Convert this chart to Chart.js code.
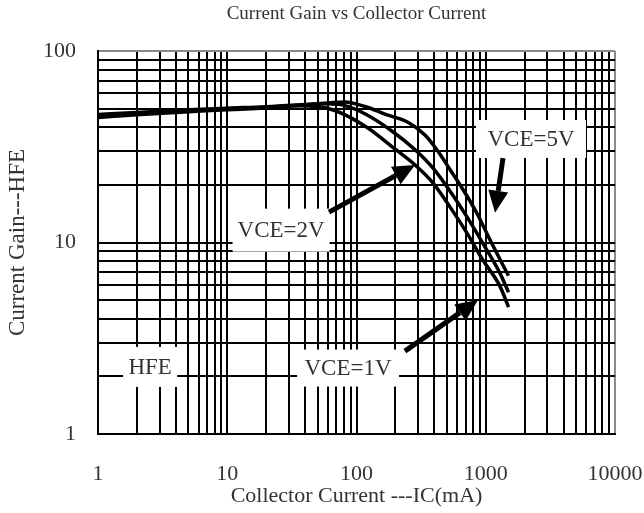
<!DOCTYPE html>
<html>
<head>
<meta charset="utf-8">
<script src="https://cdn.jsdelivr.net/npm/chart.js@4"></script>
<style>
  html, body { margin: 0; padding: 0; background: #fff; }
  #wrap { width: 644px; height: 513px; }
</style>
</head>
<body>
<div id="wrap"><canvas id="chart" width="644" height="513"></canvas></div>
<script>
// grid lines (log decades) and labels
const xGrid = [1, 2, 3, 4, 5, 6, 7, 8, 9, 10, 20, 30, 40, 50, 60, 70, 80, 90,
  100, 200, 300, 400, 500, 600, 700, 800, 900, 1000, 2000, 3000, 4000, 5000,
  6000, 7000, 8000, 9000, 10000];
const yGrid = [1, 2, 3, 4, 5, 6, 7, 8, 9, 10, 20, 30, 40, 50, 60, 70, 80, 90, 100];
const xTickLabels = [1, 10, 100, 1000, 10000];
const yTickLabels = [1, 10, 100];

// HFE curves
const ic5V = [1, 2, 5, 10, 20, 40, 60, 80, 120, 170, 250, 340, 420, 530, 670, 850, 1080, 1500];
const hfe5V = [46.6, 47.8, 49.3, 50.3, 51.2, 52.6, 53.5, 54.2, 51, 46.5, 42.5, 36.3, 30.4, 24, 18.8, 14.3, 10.3, 6.7];

const ic2V = [1, 2, 5, 10, 20, 40, 60, 80, 120, 190, 284, 390, 530, 716, 950, 1290, 1500];
const hfe2V = [45.8, 47.2, 48.8, 49.8, 50.8, 52.3, 53, 52, 46.5, 38, 30.5, 24.5, 18.5, 13.6, 9.9, 6.9, 5.5];

const ic1V = [1, 2, 5, 10, 20, 36, 66, 120, 190, 284, 390, 530, 716, 950, 1290, 1500];
const hfe1V = [45, 46.5, 48.2, 49.3, 50.4, 51.7, 49.2, 40, 31.5, 25.4, 20.5, 15.3, 11.2, 8.1, 5.9, 4.6];

// text boxes and arrows, in data units
const boxes = [
  { text: 'VCE=2V', x: 26.1, y: 11.6, w: 97, h: 43 },
  { text: 'VCE=5V', x: 2239, y: 34.7, w: 110, h: 38 },
  { text: 'HFE', x: 2.53, y: 2.24, w: 54, h: 40 },
  { text: 'VCE=1V', x: 86, y: 2.21, w: 102, h: 37 }
];
const arrows = [
  { x0: 61.3, y0: 14.4, x1: 284, y1: 25.4 },
  { x0: 1360, y0: 27.6, x1: 1180, y1: 14.3 },
  { x0: 237, y0: 2.71, x1: 871, y1: 5.01 }
];

const FONT = "'Liberation Serif', 'DejaVu Serif', serif";
const toPts = (xs, ys) => xs.map((x, i) => ({ x: x, y: ys[i] }));

const annotate = {
  id: 'annotate',
  beforeDatasetsDraw(chart) {
    const { ctx, scales: { x, y } } = chart;
    ctx.save();
    ctx.font = '23px ' + FONT;
    ctx.textAlign = 'center';
    ctx.textBaseline = 'middle';
    boxes.forEach(b => {
      const px = x.getPixelForValue(b.x), py = y.getPixelForValue(b.y);
      ctx.fillStyle = '#fff';
      ctx.fillRect(px - b.w / 2, py - b.h / 2, b.w, b.h);
      ctx.fillStyle = '#333';
      ctx.fillText(b.text, px, py + 1);
    });
    ctx.restore();
  },
  afterDatasetsDraw(chart) {
    const { ctx, scales: { x, y } } = chart;
    ctx.save();
    ctx.strokeStyle = '#000';
    ctx.fillStyle = '#000';
    ctx.lineWidth = 5;
    arrows.forEach(a => {
      const x0 = x.getPixelForValue(a.x0), y0 = y.getPixelForValue(a.y0);
      const x1 = x.getPixelForValue(a.x1), y1 = y.getPixelForValue(a.y1);
      const ang = Math.atan2(y1 - y0, x1 - x0);
      const len = 22, half = 10;
      const bx = x1 - len * Math.cos(ang), by = y1 - len * Math.sin(ang);
      ctx.beginPath();
      ctx.moveTo(x0, y0);
      ctx.lineTo(bx, by);
      ctx.stroke();
      ctx.beginPath();
      ctx.moveTo(x1, y1);
      ctx.lineTo(bx + half * Math.sin(ang), by - half * Math.cos(ang));
      ctx.lineTo(bx - half * Math.sin(ang), by + half * Math.cos(ang));
      ctx.closePath();
      ctx.fill();
    });
    ctx.restore();
  },
  afterDraw(chart) {
    const { ctx, chartArea } = chart;
    ctx.save();
    ctx.font = '19px ' + FONT;
    ctx.fillStyle = '#333';
    ctx.textAlign = 'center';
    ctx.textBaseline = 'middle';
    ctx.fillText('Current Gain vs Collector Current', (chartArea.left + chartArea.right) / 2, 14);
    ctx.restore();
  }
};

const curve = (label, pts) => ({
  label: label,
  data: pts,
  borderColor: '#000',
  borderWidth: 3.5,
  pointRadius: 0,
  fill: false,
  cubicInterpolationMode: 'monotone'
});

new Chart(document.getElementById('chart'), {
  type: 'line',
  data: {
    datasets: [
      curve('VCE=5V', toPts(ic5V, hfe5V)),
      curve('VCE=2V', toPts(ic2V, hfe2V)),
      curve('VCE=1V', toPts(ic1V, hfe1V))
    ]
  },
  options: {
    responsive: false,
    animation: false,
    layout: { padding: { top: 51, right: 29, left: 0, bottom: 0 } },
    plugins: {
      legend: { display: false },
      tooltip: { enabled: false }
    },
    scales: {
      x: {
        type: 'logarithmic',
        min: 1,
        max: 10000,
        afterBuildTicks: s => { s.ticks = xGrid.map(v => ({ value: v })); },
        afterFit: s => { s.height = 79; s.paddingLeft = 0; s.paddingRight = 0; },
        grid: {
          color: c => (c.tick && c.tick.value === 10000 ? '#8a8a8a' : '#000'),
          lineWidth: 2,
          drawTicks: false
        },
        border: { color: '#000', width: 2 },
        ticks: {
          autoSkip: false,
          maxRotation: 0,
          padding: 27,
          color: '#333',
          font: { family: FONT, size: 22 },
          callback: v => (xTickLabels.includes(v) ? String(v) : '')
        },
        title: {
          display: true,
          text: 'Collector Current ---IC(mA)',
          color: '#333',
          font: { family: FONT, size: 22 },
          padding: { top: 0, bottom: 4 }
        }
      },
      y: {
        type: 'logarithmic',
        min: 1,
        max: 100,
        afterBuildTicks: s => { s.ticks = yGrid.map(v => ({ value: v })); },
        afterFit: s => { s.width = 98; s.paddingTop = 0; s.paddingBottom = 0; },
        grid: {
          color: c => (c.tick && c.tick.value === 100 ? '#8a8a8a' : '#000'),
          lineWidth: 2,
          drawTicks: false
        },
        border: { color: '#000', width: 2 },
        ticks: {
          autoSkip: false,
          padding: 22,
          color: '#333',
          font: { family: FONT, size: 22 },
          callback: v => (yTickLabels.includes(v) ? String(v) : '')
        },
        title: {
          display: true,
          text: 'Current Gain---HFE',
          color: '#333',
          font: { family: FONT, size: 23 },
          padding: { top: 4, bottom: 0 }
        }
      }
    }
  },
  plugins: [annotate]
});
</script>
</body>
</html>
